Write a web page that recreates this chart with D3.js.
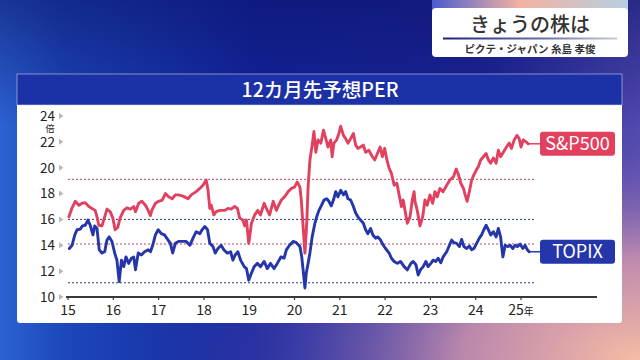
<!DOCTYPE html>
<html><head><meta charset="utf-8">
<script src="https://cdn.jsdelivr.net/npm/d3@7"></script>
<style>html,body{margin:0;padding:0;background:#1a2a9a;overflow:hidden}svg{display:block}</style>
</head><body>
<svg id="c" width="640" height="360"></svg>
<script>
// ---- data (decimal years, PER values) ----
const spxDates = [2015.02,2015.09,2015.16,2015.24,2015.31,2015.38,2015.46,2015.53,2015.60,2015.64,2015.68,2015.75,2015.81,2015.86,2015.93,2015.99,
2016.04,2016.10,2016.15,2016.23,2016.30,2016.38,2016.45,2016.49,2016.56,2016.63,2016.71,2016.77,2016.82,2016.85,2016.93,
2017.00,2017.08,2017.15,2017.22,2017.30,2017.37,2017.43,2017.54,2017.65,2017.72,2017.83,2017.91,2017.98,
2018.05,2018.09,2018.13,2018.16,2018.22,2018.27,2018.35,2018.46,2018.53,2018.60,2018.68,2018.74,2018.79,2018.86,2018.90,2018.94,2018.99,
2019.05,2019.12,2019.19,2019.25,2019.33,2019.40,2019.45,2019.53,2019.60,2019.65,2019.71,2019.78,2019.86,2019.93,
2020.00,2020.06,2020.12,2020.15,2020.19,2020.23,2020.27,2020.30,2020.34,2020.39,2020.43,2020.47,2020.52,2020.58,2020.64,2020.69,2020.74,2020.80,2020.83,2020.87,2020.93,2020.98,
2021.02,2021.08,2021.13,2021.18,2021.24,2021.30,2021.35,2021.40,2021.46,2021.52,2021.57,2021.64,2021.72,2021.77,2021.83,2021.89,2021.94,2021.99,
2022.04,2022.09,2022.14,2022.20,2022.26,2022.31,2022.36,2022.40,2022.45,2022.49,2022.55,2022.60,2022.64,2022.66,2022.71,2022.77,2022.83,2022.88,2022.93,2022.99,
2023.05,2023.10,2023.15,2023.21,2023.28,2023.36,2023.43,2023.51,2023.57,2023.62,2023.67,2023.73,2023.76,2023.81,2023.86,2023.91,2023.96,
2024.01,2024.06,2024.11,2024.17,2024.23,2024.28,2024.33,2024.39,2024.45,2024.50,2024.55,2024.61,2024.68,2024.74,2024.79,2024.85,2024.91,2024.96,
2025.00,2025.05,2025.11,2025.16];
const spxValues = [16.2,16.9,17.4,17.1,17.25,17.3,17.0,16.85,16.7,16.2,15.55,15.5,16.2,16.8,16.6,16.1,
15.2,15.4,16.1,16.7,16.9,16.8,17.0,16.6,17.25,17.4,17.1,16.7,16.3,16.7,17.25,
17.4,17.5,18.0,17.75,17.6,17.9,17.9,17.8,17.6,17.9,18.15,18.4,18.65,
19.05,18.3,16.85,17.1,16.35,16.6,16.7,16.7,16.85,16.8,17.0,16.85,16.1,15.95,15.5,15.95,14.15,
15.7,16.35,16.7,16.35,17.25,16.7,16.35,17.4,16.7,17.1,17.5,17.75,18.15,18.4,
18.5,18.9,18.5,17.5,15.45,13.4,15.7,18.5,20.6,21.75,22.8,21.2,22.15,21.9,22.9,22.25,21.6,22.15,20.85,21.9,22.15,22.65,
23.2,22.5,22.25,21.9,22.25,22.65,21.75,21.5,21.6,21.75,21.2,21.35,20.85,20.6,21.1,21.6,20.85,21.5,
20.6,19.95,19.55,18.65,18.8,17.9,17.0,17.5,16.5,15.7,16.2,17.5,18.15,17.4,16.7,15.5,16.2,17.5,17.1,17.9,
17.25,18.15,17.75,18.4,18.15,18.65,19.05,19.3,19.9,19.45,18.8,18.4,18.0,17.4,18.15,19.05,19.45,
19.8,20.1,20.6,20.85,21.1,20.6,20.35,20.75,20.35,21.35,20.85,21.2,21.6,21.9,21.5,22.15,22.5,22.25,
21.6,22.15,22.0,21.85];

const topixDates = [2015.03,2015.09,2015.15,2015.20,2015.27,2015.32,2015.38,2015.44,2015.49,2015.55,2015.59,2015.64,2015.69,2015.75,2015.81,2015.86,2015.91,2015.97,
2016.03,2016.08,2016.13,2016.18,2016.23,2016.28,2016.34,2016.40,2016.45,2016.49,2016.55,2016.62,2016.69,2016.77,2016.82,2016.87,2016.93,2016.99,
2017.06,2017.13,2017.21,2017.26,2017.31,2017.37,2017.44,2017.54,2017.61,2017.69,2017.76,2017.83,2017.91,2017.96,
2018.02,2018.08,2018.13,2018.20,2018.25,2018.31,2018.38,2018.44,2018.52,2018.59,2018.64,2018.69,2018.75,2018.81,2018.89,2018.94,2018.99,
2019.05,2019.11,2019.18,2019.25,2019.33,2019.40,2019.47,2019.55,2019.62,2019.70,2019.77,2019.82,2019.89,2019.97,
2020.04,2020.12,2020.16,2020.19,2020.23,2020.26,2020.30,2020.34,2020.39,2020.45,2020.49,2020.54,2020.59,2020.65,2020.71,2020.76,2020.81,2020.86,2020.91,2020.96,
2021.02,2021.08,2021.13,2021.18,2021.24,2021.30,2021.35,2021.40,2021.46,2021.52,2021.57,2021.62,2021.68,2021.73,2021.79,2021.84,2021.90,2021.96,
2022.01,2022.09,2022.14,2022.20,2022.27,2022.34,2022.42,2022.49,2022.57,2022.62,2022.68,2022.73,2022.78,2022.84,2022.90,2022.95,
2023.01,2023.06,2023.12,2023.17,2023.23,2023.28,2023.36,2023.42,2023.47,2023.52,2023.58,2023.64,2023.69,2023.74,2023.80,2023.86,2023.91,2023.96,
2024.02,2024.08,2024.13,2024.18,2024.23,2024.28,2024.33,2024.39,2024.45,2024.50,2024.55,2024.60,2024.65,2024.70,2024.76,2024.82,2024.87,2024.92,2024.98,
2025.04,2025.09,2025.14,2025.18];
const topixValues = [13.75,14.0,14.8,15.2,15.25,15.5,15.55,15.95,15.55,14.8,15.5,15.3,13.65,13.4,13.5,14.4,14.65,14.3,
13.4,12.85,11.2,12.85,12.35,13.1,12.6,13.0,13.1,12.1,13.4,13.25,13.5,13.65,13.5,14.0,14.8,15.2,
14.9,14.8,14.4,14.15,13.4,14.15,14.3,14.3,14.3,14.0,14.55,15.05,14.9,15.2,
15.45,15.2,14.15,13.9,13.4,13.75,14.0,13.65,13.4,13.5,12.85,13.25,13.5,12.85,12.35,12.2,11.3,
11.85,12.35,12.6,12.35,12.75,12.2,12.6,12.2,12.6,13.1,13.0,13.65,14.0,14.3,
14.2,13.9,13.1,12.1,10.7,11.85,12.6,13.4,14.65,15.7,16.2,16.7,17.05,17.5,17.6,17.4,17.05,17.5,18.15,17.75,
18.25,17.9,18.15,17.6,17.5,17.0,16.5,16.2,15.95,15.7,15.2,14.9,15.3,14.8,14.55,14.65,14.4,14.0,
13.75,13.4,13.0,12.75,12.6,12.75,12.35,12.1,12.6,12.75,12.5,11.7,12.1,12.35,12.75,12.35,
12.6,12.85,12.75,13.0,12.65,13.1,13.5,14.0,14.4,14.2,14.15,13.9,14.45,13.9,13.75,13.95,13.65,13.75,
14.15,14.55,14.8,15.2,15.55,15.2,14.8,15.05,14.65,15.3,14.65,13.1,14.0,13.9,14.0,13.75,14.0,13.9,14.1,
13.75,14.0,13.65,13.5];

const spxBands = [19.1, 14.1];
const topixBands = [16.0, 11.1];
const xTicks = [2015,2016,2017,2018,2019,2020,2021,2022,2023,2024,2025];
const xTickLabels = ["15","16","17","18","19","20","21","22","23","24","25"];
const yTicks = [10,12,14,16,18,20,22,24];
const seriesNames = ["S&P500","TOPIX"];
const chartTitle = "12カ月先予想PER";
const cornerTitle = "きょうの株は";
const cornerSub = "ピクテ・ジャパン 糸島 孝俊";

// ---- drawing ----
const svg = d3.select("#c");
const F = "'Noto Sans CJK JP','Noto Sans',sans-serif";
const defs = svg.append("defs");

const bg = defs.append("linearGradient").attr("id","bg").attr("x1",0).attr("x2",1).attr("y1",0).attr("y2",0);
[[0,"#2c62d2"],[0.1,"#1d47ba"],[0.4,"#13249c"],[0.75,"#1c2496"],[1,"#5048ae"]].forEach(s=>bg.append("stop").attr("offset",s[0]).attr("stop-color",s[1]));
const topShade = defs.append("linearGradient").attr("id","ts").attr("x1",0).attr("x2",0).attr("y1",0).attr("y2",1);
topShade.append("stop").attr("offset",0).attr("stop-color","#0a1268").attr("stop-opacity",0.55);
topShade.append("stop").attr("offset",0.35).attr("stop-color","#0a1268").attr("stop-opacity",0);
const rg = defs.append("radialGradient").attr("id","rg").attr("cx",1).attr("cy",1).attr("r",0.8).attr("fx",1).attr("fy",1);
rg.append("stop").attr("offset",0).attr("stop-color","#f6bca4").attr("stop-opacity",1);
rg.append("stop").attr("offset",0.35).attr("stop-color","#cc92ae").attr("stop-opacity",0.9);
rg.append("stop").attr("offset",0.7).attr("stop-color","#6e5cb6").attr("stop-opacity",0.35);
rg.append("stop").attr("offset",1).attr("stop-color","#3a3aa0").attr("stop-opacity",0);
const hdr = defs.append("linearGradient").attr("id","hdr").attr("x1",0).attr("x2",1);
[[0,"#4a5ccc"],[0.45,"#f3b2a2"],[1,"#b6cfe2"]].forEach(s=>hdr.append("stop").attr("offset",s[0]).attr("stop-color",s[1]));
const ul = defs.append("linearGradient").attr("id","ul").attr("x1",0).attr("x2",1);
[[0,"#1a2478"],[0.6,"#6a74a8"],[1,"#c8ccd8"]].forEach(s=>ul.append("stop").attr("offset",s[0]).attr("stop-color",s[1]));

svg.append("rect").attr("width",640).attr("height",360).attr("fill","url(#bg)");
svg.append("rect").attr("width",640).attr("height",360).attr("fill","url(#rg)");
svg.append("rect").attr("width",640).attr("height",360).attr("fill","url(#ts)");

// corner title box
svg.append("rect").attr("x",432).attr("y",0).attr("width",196).attr("height",14).attr("fill","url(#hdr)");
svg.append("rect").attr("x",432).attr("y",8).attr("width",196).attr("height",49).attr("rx",4).attr("fill","#ffffff");
svg.append("text").attr("x",530).attr("y",32).attr("text-anchor","middle").attr("font-family",F)
  .attr("font-size",20).attr("fill","#333").attr("font-weight",500).text(cornerTitle);
svg.append("rect").attr("x",443).attr("y",37.5).attr("width",174).attr("height",2).attr("fill","url(#ul)");
svg.append("text").attr("x",530).attr("y",53).attr("text-anchor","middle").attr("font-family",F)
  .attr("font-size",10.5).attr("font-weight",700).attr("fill","#333").text(cornerSub);

// panel
svg.append("rect").attr("x",17).attr("y",74).attr("width",605).attr("height",249).attr("rx",3).attr("fill","#ffffff");
svg.append("rect").attr("x",17).attr("y",74).attr("width",605).attr("height",31).attr("fill","#1b31a5")
  .attr("stroke","#c8d0f0").attr("stroke-width",0.6);
svg.append("text").attr("x",320).attr("y",96.5).attr("text-anchor","middle").attr("font-family",F)
  .attr("font-size",19.5).attr("font-weight",500).attr("fill","#fff").text(chartTitle);

const x = d3.scaleLinear().domain([2015,2025]).range([68,521]);
const y = d3.scaleLinear().domain([10,24]).range([297,116]);

// dashed reference lines
const dashEnd = 2025.3;
const bandG = svg.append("g");
spxBands.forEach(v=>bandG.append("line").attr("x1",x(2015)).attr("x2",x(dashEnd)).attr("y1",y(v)).attr("y2",y(v))
  .attr("stroke","#c0485f").attr("stroke-width",1).attr("stroke-dasharray","2,2"));
topixBands.forEach(v=>bandG.append("line").attr("x1",x(2015)).attr("x2",x(dashEnd)).attr("y1",y(v)).attr("y2",y(v))
  .attr("stroke","#2a3a9a").attr("stroke-width",1).attr("stroke-dasharray","2,2"));

// y axis labels
const yg = svg.append("g");
yTicks.forEach(t=>{
  yg.append("text").attr("x",55).attr("y",y(t)+4.8).attr("text-anchor","end").attr("font-family",F)
    .attr("font-size",13.5).attr("fill","#222").text(t);
  yg.append("path").attr("d",`M59,${y(t)-3}L63.5,${y(t)}L59,${y(t)+3}Z`).attr("fill","#b8b8b8");
});
yg.append("text").attr("x",50).attr("y",y(23)+3.5).attr("text-anchor","middle").attr("font-family",F)
  .attr("font-size",9).attr("fill","#222").text("倍");

// x axis
const xg = svg.append("g");
xg.append("line").attr("x1",66).attr("x2",597).attr("y1",y(10)).attr("y2",y(10)).attr("stroke","#3a3a3a").attr("stroke-width",1.8);
xTicks.forEach((t,i)=>{
  xg.append("line").attr("x1",x(t)).attr("x2",x(t)).attr("y1",y(10)).attr("y2",y(10)+3).attr("stroke","#3a3a3a").attr("stroke-width",1.2);
  const tx = xg.append("text").attr("x",x(t)).attr("y",315).attr("text-anchor","middle").attr("font-family",F)
    .attr("font-size",14).attr("fill","#222");
  tx.append("tspan").text(xTickLabels[i]);
  if(i===xTicks.length-1) tx.append("tspan").attr("font-size",10).text("年");
});

// series
const line = d3.line().x(d=>x(d[0])).y(d=>y(d[1]));
const spx = spxDates.map((d,i)=>[d,spxValues[i]]);
const tpx = topixDates.map((d,i)=>[d,topixValues[i]]);
const colors = ["#e2405f","#2536aa"];
[spx,tpx].forEach((s,k)=>{
  svg.append("path").datum(s).attr("d",line).attr("fill","none").attr("stroke",colors[k])
    .attr("stroke-width",2.9).attr("stroke-linejoin","round").attr("stroke-linecap","round");
  const last = s[s.length-1];
  const cy = y(last[1]);
  svg.append("line").attr("x1",x(last[0])).attr("x2",541).attr("y1",cy).attr("y2",cy).attr("stroke",colors[k]).attr("stroke-width",1.5);
  svg.append("rect").attr("x",540).attr("y",cy-12).attr("width",75).attr("height",24).attr("rx",3).attr("fill",colors[k]);
  svg.append("text").attr("x",577.5).attr("y",cy+6.5).attr("text-anchor","middle").attr("font-family",F)
    .attr("font-size",18).attr("fill","#fff").text(seriesNames[k]);
});
</script>
</body></html>
